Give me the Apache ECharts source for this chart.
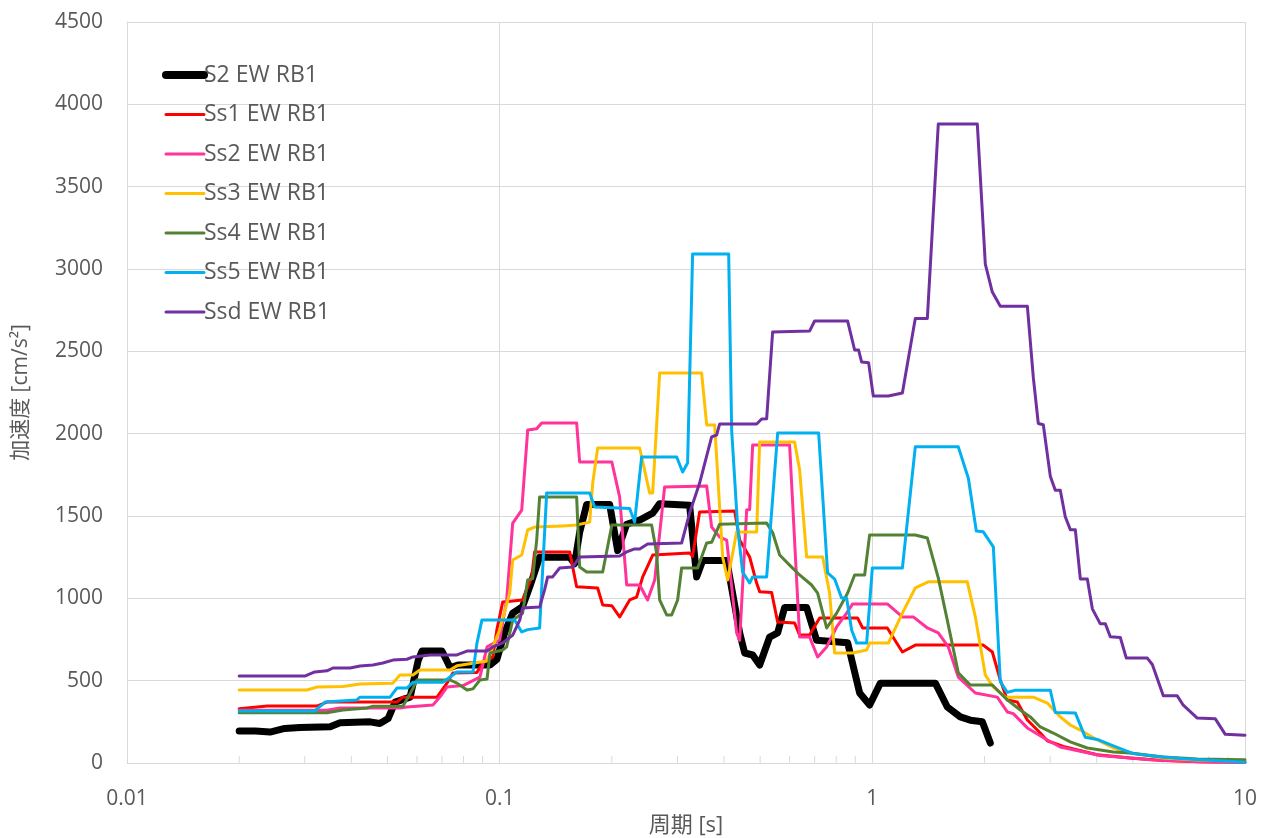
<!DOCTYPE html>
<html>
<head>
<meta charset="utf-8">
<script src="https://cdn.jsdelivr.net/npm/echarts@6/dist/echarts.min.js"></script>
<style>
html,body{margin:0;padding:0;background:#fff;overflow:hidden;}
#chart{width:1261px;height:838px;}
</style>
</head>
<body>
<div id="chart"></div>
<script>
// Tick labels
const xTickLabels = ['0.01', '0.1', '1', '10'];
const minorTickPeriods = [0.02,0.03,0.04,0.05,0.06,0.07,0.08,0.09,0.2,0.3,0.4,0.5,0.6,0.7,0.8,0.9,2,3,4,5,6,7,8,9];
const seriesNames = ['S2 EW RB1','Ss1 EW RB1','Ss2 EW RB1','Ss3 EW RB1','Ss4 EW RB1','Ss5 EW RB1','Ssd EW RB1'];

// [period (s), acceleration (cm/s2)]
const s2 = [[0.02,195],[0.0221,195],[0.0242,188],[0.0265,210],[0.0291,215],[0.0351,220],[0.0373,245],[0.0449,250],[0.0477,240],[0.0502,270],[0.0524,370],[0.0575,400],[0.0604,620],[0.0619,680],[0.070,680],[0.0736,580],[0.0773,595],[0.0942,595],[0.0983,630],[0.1031,790],[0.1084,910],[0.1152,950],[0.1204,1070],[0.128,1250],[0.1541,1250],[0.1589,1210],[0.1639,1400],[0.1712,1570],[0.1973,1570],[0.2073,1290],[0.2192,1450],[0.2375,1475],[0.2574,1517],[0.2687,1575],[0.3234,1565],[0.3377,1130],[0.3505,1230],[0.4066,1230],[0.4406,790],[0.4544,668],[0.4774,656],[0.4985,595],[0.5302,765],[0.5571,790],[0.5817,945],[0.6664,945],[0.7087,745],[0.8585,730],[0.9246,425],[0.9835,352],[1.051,485],[1.476,485],[1.589,340],[1.722,280],[1.832,260],[1.973,250],[2.073,121]];

const ss1 = [[0.02,330],[0.0238,346],[0.0323,346],[0.0344,370],[0.0414,370],[0.053,370],[0.055,400],[0.0679,400],[0.0722,485],[0.0749,547],[0.0869,550],[0.0902,607],[0.0959,645],[0.0983,810],[0.1019,978],[0.1152,990],[0.1219,1130],[0.1241,1282],[0.1541,1282],[0.1609,1070],[0.1832,1063],[0.189,960],[0.2,955],[0.2099,887],[0.2233,990],[0.2331,1008],[0.242,1130],[0.2574,1263],[0.3234,1275],[0.3294,1255],[0.344,1525],[0.4271,1530],[0.4406,1354],[0.4686,1251],[0.4893,1093],[0.4985,1040],[0.5368,1035],[0.5571,856],[0.6187,850],[0.6381,777],[0.6786,777],[0.7222,880],[0.9131,880],[0.942,820],[1.097,820],[1.204,674],[1.304,716],[1.985,716],[2.099,674],[2.205,504],[2.302,383],[2.449,370],[2.606,261],[2.823,182],[2.948,135],[3.254,100],[4.015,50],[4.923,30],[6.037,15],[7.586,8],[10,5]];

const ss2 = [[0.02,320],[0.0344,320],[0.0373,334],[0.054,334],[0.0564,340],[0.0662,352],[0.0691,400],[0.0722,461],[0.0797,470],[0.0885,522],[0.0925,705],[0.1,747],[0.1044,990],[0.1084,1457],[0.1146,1536],[0.1189,2022],[0.1257,2030],[0.1296,2065],[0.1609,2065],[0.1639,1828],[0.2,1828],[0.2099,1615],[0.2192,1081],[0.2375,1081],[0.2495,990],[0.2606,1111],[0.2771,1676],[0.3593,1682],[0.3705,1433],[0.3894,1372],[0.4066,1354],[0.4324,790],[0.4406,745],[0.46,1536],[0.4686,1540],[0.4774,1931],[0.5998,1931],[0.6381,765],[0.6786,765],[0.7132,644],[0.7541,705],[0.8021,826],[0.8531,910],[0.8853,966],[1.097,966],[1.204,887],[1.288,887],[1.405,820],[1.503,790],[1.599,705],[1.701,522],[1.890,425],[2.164,400],[2.302,310],[2.389,300],[2.606,213],[2.948,140],[3.194,97],[4.090,45],[5.571,20],[7.586,8],[10,3]];

const ss3 = [[0.02,443],[0.0304,443],[0.0323,461],[0.038,465],[0.0422,480],[0.0517,485],[0.054,534],[0.0585,534],[0.0611,565],[0.0736,565],[0.0768,590],[0.0925,620],[0.1,808],[0.1064,1032],[0.1084,1233],[0.1146,1263],[0.1189,1415],[0.1241,1433],[0.1476,1440],[0.1609,1445],[0.1744,1463],[0.1777,1700],[0.1832,1913],[0.2375,1913],[0.2526,1640],[0.2574,1640],[0.2687,2368],[0.3483,2368],[0.3593,2053],[0.3775,2053],[0.3966,1251],[0.409,1111],[0.4324,1403],[0.4893,1403],[0.4985,1950],[0.6187,1950],[0.6381,1780],[0.6664,1251],[0.7356,1251],[0.768,1032],[0.7923,668],[0.8853,668],[0.9654,686],[0.9835,728],[1.104,728],[1.204,910],[1.304,1063],[1.413,1100],[1.798,1100],[1.890,887],[2.010,534],[2.112,461],[2.275,400],[2.704,400],[2.948,364],[3.194,280],[3.398,231],[3.615,200],[4.015,140],[4.433,91],[4.923,61],[6.037,30],[7.447,18],[10,10]];

const ss4 = [[0.02,305],[0.0344,305],[0.038,322],[0.0441,334],[0.0457,345],[0.055,345],[0.0575,420],[0.06,504],[0.0736,504],[0.0768,485],[0.0817,443],[0.0848,450],[0.0885,504],[0.0925,510],[0.0942,668],[0.1019,686],[0.1044,705],[0.1084,868],[0.1152,910],[0.1189,1111],[0.1226,1120],[0.1257,1354],[0.128,1615],[0.1609,1615],[0.1639,1190],[0.1712,1160],[0.189,1160],[0.2,1445],[0.2557,1445],[0.2637,1275],[0.2687,990],[0.2806,899],[0.2894,899],[0.3003,990],[0.3078,1184],[0.3398,1184],[0.3593,1336],[0.3705,1340],[0.3894,1450],[0.5205,1457],[0.5401,1400],[0.5641,1263],[0.5998,1202],[0.6381,1142],[0.6871,1081],[0.7132,1032],[0.7541,820],[0.8021,910],[0.8585,1032],[0.8964,1142],[0.9535,1142],[0.9835,1385],[1.304,1385],[1.405,1366],[1.503,1124],[1.589,868],[1.701,547],[1.832,474],[2.099,474],[2.302,383],[2.495,322],[2.654,280],[2.823,219],[3.059,182],[3.398,128],[3.775,91],[4.433,67],[4.923,61],[6.037,36],[7.447,24],[10,20]];

const ss5 = [[0.02,316],[0.0319,316],[0.034,370],[0.0414,383],[0.0422,400],[0.0508,400],[0.053,455],[0.0564,455],[0.0585,490],[0.0704,490],[0.0736,522],[0.0768,553],[0.0848,553],[0.0869,728],[0.0896,868],[0.1097,868],[0.1146,796],[0.1189,810],[0.128,820],[0.1337,1640],[0.1744,1640],[0.1798,1555],[0.2233,1545],[0.2302,1463],[0.2404,1858],[0.2985,1858],[0.3097,1767],[0.3194,1822],[0.3294,3091],[0.4116,3091],[0.4193,2022],[0.4351,1433],[0.4487,1160],[0.4686,1093],[0.4774,1130],[0.5205,1130],[0.5571,2004],[0.7176,2004],[0.7586,1154],[0.7923,1117],[0.827,1002],[0.8531,1002],[0.8799,808],[0.9077,728],[0.9654,728],[1.0,1184],[1.204,1184],[1.304,1920],[1.701,1920],[1.810,1729],[1.901,1409],[1.985,1404],[2.112,1313],[2.205,494],[2.302,429],[2.420,442],[3.003,442],[3.097,307],[3.505,304],[3.728,156],[4.015,143],[4.433,104],[5.015,57],[5.817,39],[6.829,26],[10,5]];

const ssd = [[0.02,528],[0.030,528],[0.0319,553],[0.0344,560],[0.0357,577],[0.0397,577],[0.0422,589],[0.0457,595],[0.0486,607],[0.0517,625],[0.0564,630],[0.0585,644],[0.065,656],[0.0768,656],[0.0817,680],[0.0925,680],[0.0959,705],[0.1019,729],[0.1084,777],[0.1132,868],[0.1152,941],[0.128,947],[0.132,1051],[0.1345,1130],[0.1387,1130],[0.1449,1184],[0.157,1190],[0.1639,1251],[0.2099,1257],[0.2192,1282],[0.2302,1300],[0.2375,1300],[0.2495,1330],[0.3078,1336],[0.3234,1518],[0.344,1700],[0.3705,1980],[0.3821,1992],[0.3894,2059],[0.4893,2059],[0.5047,2089],[0.5205,2090],[0.5401,2618],[0.6786,2623],[0.70,2684],[0.8585,2684],[0.8964,2508],[0.9188,2508],[0.9361,2435],[0.9774,2430],[1.006,2229],[1.104,2229],[1.204,2247],[1.304,2700],[1.405,2700],[1.503,3880],[1.913,3880],[2.010,3029],[2.099,2860],[2.205,2774],[2.606,2774],[2.704,2340],[2.788,2062],[2.876,2054],[3.003,1742],[3.097,1656],[3.194,1656],[3.294,1495],[3.398,1417],[3.505,1417],[3.615,1118],[3.775,1118],[3.894,936],[4.090,845],[4.220,845],[4.351,767],[4.628,762],[4.803,637],[5.469,637],[5.641,598],[6.037,408],[6.580,408],[6.829,351],[7.447,273],[8.325,268],[8.853,174],[10,169]];

const seriesData = [s2, ss1, ss2, ss3, ss4, ss5, ssd];
const colors = ['#000000','#ff0000','#ff3399','#ffc000','#548235','#00b0f0','#7030a0'];
const widths = [7, 3, 3, 3, 3, 3, 3];

const FONT = '"Open Sans", "Noto Sans CJK JP", sans-serif';
const TXT = '#595959';
const GRID = '#d9d9d9';

const chart = echarts.init(document.getElementById('chart'), null, {renderer: 'canvas'});

const lineSeries = seriesNames.map((name, i) => ({
  name: name,
  type: 'line',
  data: seriesData[i],
  symbol: 'none',
  showSymbol: false,
  z: 3,
  color: colors[i],
  lineStyle: {color: colors[i], width: widths[i], cap: 'round', join: 'round'},
  emphasis: {disabled: true},
  animation: false
}));

const tickSeries = {
  type: 'custom',
  name: 'minorTicks',
  data: minorTickPeriods.map(p => [p, 0]),
  silent: true,
  z: 1,
  animation: false,
  renderItem: function (params, api) {
    const pt = api.coord([api.value(0), api.value(1)]);
    return {
      type: 'line',
      shape: {x1: pt[0], y1: pt[1], x2: pt[0], y2: pt[1] - 7},
      style: {stroke: GRID, lineWidth: 1}
    };
  }
};

chart.setOption({
  backgroundColor: '#ffffff',
  animation: false,
  grid: {left: 127, right: 16, top: 22, bottom: 75, containLabel: false, outerBoundsMode: 'none'},
  legend: {
    orient: 'vertical',
    left: 162,
    top: 63,
    padding: 0,
    itemWidth: 38,
    itemHeight: 14,
    itemGap: 15.5,
    selectedMode: false,
    data: seriesNames.map((n, i) => ({
      name: n,
      itemStyle: {opacity: 0, borderWidth: 0},
      lineStyle: {width: widths[i] === 7 ? 8 : 3, color: colors[i], cap: 'round'}
    })),
    textStyle: {fontFamily: FONT, fontSize: 23, color: TXT, lineHeight: 24, padding: [0, 0, 0, -5]}
  },
  xAxis: {
    type: 'log',
    logBase: 10,
    min: 0.01,
    max: 10,
    splitNumber: 3,
    name: '周期 [s]',
    nameLocation: 'middle',
    nameGap: 48,
    nameTextStyle: {fontFamily: FONT, fontSize: 22, color: TXT},
    axisLine: {show: true, lineStyle: {color: GRID, width: 1}},
    axisTick: {show: false},
    minorTick: {show: false},
    splitLine: {show: true, lineStyle: {color: GRID, width: 1}},
    axisLabel: {
      fontFamily: FONT, fontSize: 21, color: TXT, margin: 26,
      formatter: function (v, idx) { return xTickLabels[idx] !== undefined ? xTickLabels[idx] : ''; }
    }
  },
  yAxis: {
    type: 'value',
    min: 0,
    max: 4500,
    interval: 500,
    name: '加速度 [cm/s²]',
    nameLocation: 'middle',
    nameGap: 95,
    nameTextStyle: {fontFamily: FONT, fontSize: 21, color: TXT},
    axisLine: {show: true, lineStyle: {color: GRID, width: 1}},
    axisTick: {show: false},
    splitLine: {show: true, lineStyle: {color: GRID, width: 1}},
    axisLabel: {
      fontFamily: FONT, fontSize: 21, color: TXT, margin: 24,
      formatter: function (v) { return String(v); }
    }
  },
  series: [tickSeries].concat(lineSeries)
});
</script>
</body>
</html>
